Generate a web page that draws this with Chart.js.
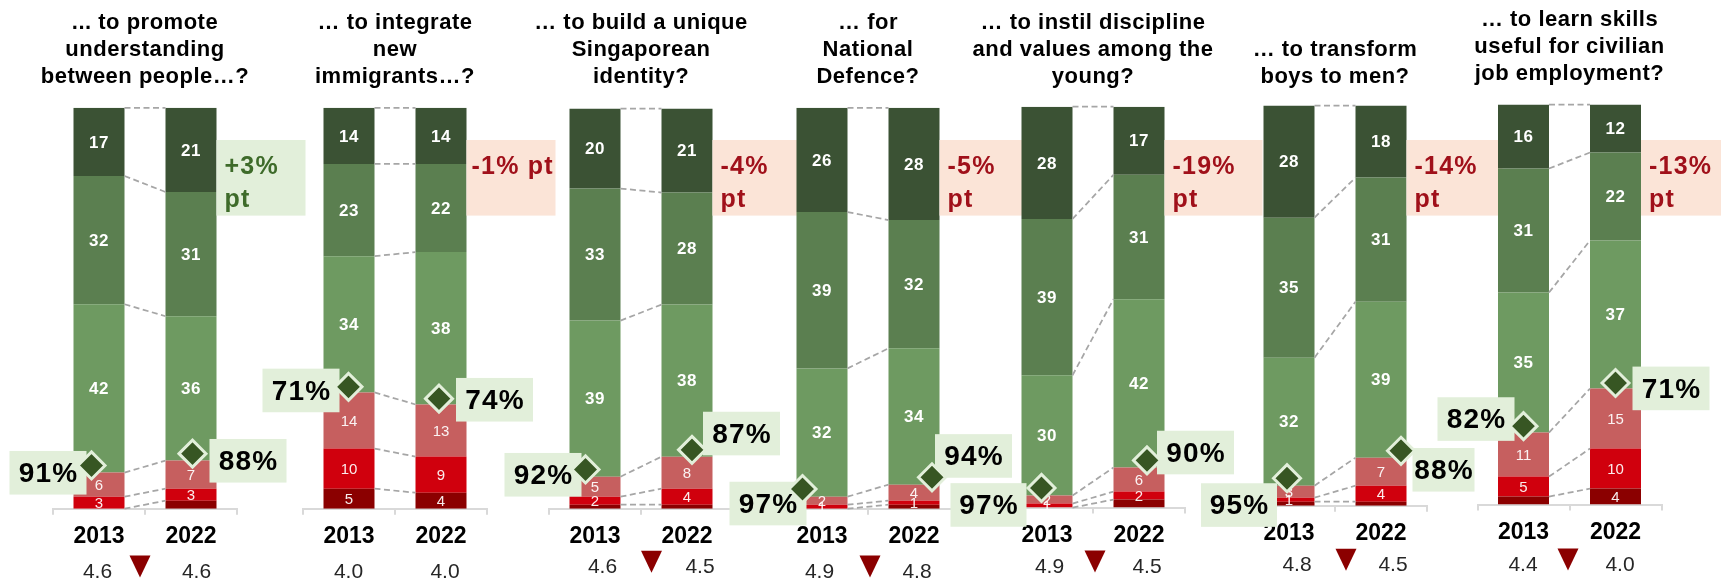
<!DOCTYPE html>
<html>
<head>
<meta charset="utf-8">
<script src="https://cdn.jsdelivr.net/npm/chart.js@4.4.1/dist/chart.umd.min.js"></script>
<style>
  html, body { margin: 0; padding: 0; background: #ffffff; }
  #wrap { position: relative; width: 1721px; height: 581px; overflow: hidden; }
  #wrap canvas { position: absolute; left: 0; top: 0; }
</style>
</head>
<body>
<div id="wrap"></div>
<script>
// ---- Data -------------------------------------------------------------
const questions = [
  ['... to promote', 'understanding', 'between people…?'],
  ['… to integrate', 'new', 'immigrants…?'],
  ['… to build a unique', 'Singaporean', 'identity?'],
  ['… for', 'National', 'Defence?'],
  ['… to instil discipline', 'and values among the', 'young?'],
  ['… to transform', 'boys to men?'],
  ['… to learn skills', 'useful for civilian', 'job employment?']
];
const years = ['2013', '2022'];

// Share of respondents (%), per question: [2013, 2022]
const stronglyAgree    = [[17, 21], [14, 14], [20, 21], [26, 28], [28, 17], [28, 18], [16, 12]];
const agree            = [[32, 31], [23, 22], [33, 28], [39, 32], [39, 31], [35, 31], [31, 22]];
const somewhatAgree    = [[42, 36], [34, 38], [39, 38], [32, 34], [30, 42], [32, 39], [35, 37]];
const somewhatDisagree = [[6, 7], [14, 13], [5, 8], [2, 4], [2, 6], [3, 7], [11, 15]];
const disagree         = [[3, 3], [10, 9], [2, 4], [1, 1], [1, 2], [1, 4], [5, 10]];
const stronglyDisagree = [[0, 2], [5, 4], [1, 1], [0, 1], [0, 2], [1, 1], [2, 4]];

// Mean score (6-point scale) and whether it fell significantly
const meanScore2013 = [4.6, 4.0, 4.6, 4.9, 4.9, 4.8, 4.4];
const meanScore2022 = [4.6, 4.0, 4.5, 4.8, 4.5, 4.5, 4.0];
const meanDeclined  = [true, false, true, true, true, true, true];

// ---- Layout -----------------------------------------------------------
const W = 1721, H = 581;
const groupCentre = [145, 395, 641, 868, 1093, 1335, 1569.5];
const plotTop     = [107.8, 107.8, 108.5, 107.8, 106.7, 105.6, 104.5];
const plotBottom  = [508.7, 508.7, 508.7, 508.7, 507.6, 505.7, 504.6];
const CAT_W = 92;           // width of one year slot
const AXIS_H = 45;          // height reserved for the year axis
const diamondShift = [[-7.5, 1.5], [-0.5, -2], [-9.5, 5], [-19.5, 18], [-5.5, 8], [-2, 20], [0, 0]];
const shareBoxOffset = [
  [[-43.5, 7.3], [55.5, 7.1]],
  [[-47.5, 3.6], [55.5, 1.1]],
  [[-42.5, 5.3], [49.5, -16.3]],
  [[-34.5, 14.5], [41.5, -21.3]],
  [[-53, 17], [48.5, -7.9]],
  [[-48, 26.8], [42.5, 19]],
  [[-47.5, -7.1], [55.5, 5.4]]
];
const shareBoxWidth = [[77, 77], [77, 77], [77, 77], [77, 77], [76, 77], [76, 62], [77, 77]];
const changeBoxWidth = [89, 89, 85, 85, 98, 96, 96];
const changeOneLine  = [false, true, false, false, false, false, false];
const meanShift  = [[-1.5, 5.5], [-0.5, 4], [7.5, 13], [-2.5, 3], [2.5, 8], [8, 12], [-0.5, 4.5]];
const meanDrop   = [63.3, 63.3, 58.5, 63.3, 59.5, 59.5, 60.5];
const arrowShift = [-5, 0, 10.5, 2, 2, 11, -1.5];

const FONT = "'Liberation Sans', Arial, sans-serif";
const colours = {
  stronglyDisagree: '#8B0000',
  disagree: '#D0000D',
  somewhatDisagree: '#C65F5F',
  somewhatAgree: '#6E9A61',
  agree: '#5B7F50',
  stronglyAgree: '#3B5234',
  diamond: '#375623',
  paleGreen: '#E2EFDA',
  paleRed: '#FBE4D7',
  upText: '#3E6B2A',
  downText: '#A0101A',
  connector: '#A6A6A6',
  axis: '#D9D9D9',
  triangle: '#8B0000'
};
Chart.defaults.font.family = FONT;

const seriesDefs = [
  { key: 'stronglyDisagree', values: stronglyDisagree, green: false },
  { key: 'disagree', values: disagree, green: false },
  { key: 'somewhatDisagree', values: somewhatDisagree, green: false },
  { key: 'somewhatAgree', values: somewhatAgree, green: true },
  { key: 'agree', values: agree, green: true },
  { key: 'stronglyAgree', values: stronglyAgree, green: true }
];

function spaced(ctx, px) { ctx.letterSpacing = px + 'px'; }

function overlayPlugin(g) {
  return {
    id: 'overlay' + g,
    beforeDatasetDraw(chart, args) {
      if (args.index !== seriesDefs.length) return;
      const ctx = chart.ctx;
      const metas = seriesDefs.map((_, k) => chart.getDatasetMeta(k));

      // dashed connectors between matching segment boundaries
      ctx.save();
      ctx.strokeStyle = colours.connector;
      ctx.lineWidth = 1.75;
      ctx.setLineDash([6, 3.5]);
      metas.forEach(m => {
        const a = m.data[0], b = m.data[1];
        ctx.beginPath();
        ctx.moveTo(a.x + a.width / 2, a.y);
        ctx.lineTo(b.x - b.width / 2, b.y);
        ctx.stroke();
      });
      ctx.restore();

      // values inside segments
      ctx.save();
      ctx.textAlign = 'center';
      ctx.textBaseline = 'middle';
      seriesDefs.forEach((s, k) => {
        metas[k].data.forEach((bar, i) => {
          const v = s.values[g][i];
          if (v <= 0) return;
          if (s.key === 'stronglyDisagree' && v < 3) return;
          if (s.green) {
            ctx.font = 'bold 17px ' + FONT;
            ctx.fillStyle = '#FFFFFF';
            spaced(ctx, 0.5);
          } else {
            ctx.font = '15px ' + FONT;
            ctx.fillStyle = 'rgba(255,255,255,0.92)';
            spaced(ctx, 0);
          }
          ctx.fillText(String(v), bar.x, (bar.y + bar.base) / 2 + 1);
        });
      });
      ctx.restore();

      // total-agree label boxes beside the diamonds
      const dm = chart.getDatasetMeta(seriesDefs.length);
      ctx.save();
      dm.data.forEach((pt, i) => {
        const total = stronglyAgree[g][i] + agree[g][i] + somewhatAgree[g][i];
        const [ox, oy] = shareBoxOffset[g][i];
        const bw = shareBoxWidth[g][i], bh = 43.6;
        const cx = pt.x + ox, cy = pt.y + oy;
        ctx.fillStyle = colours.paleGreen;
        ctx.fillRect(cx - bw / 2, cy - bh / 2, bw, bh);
        ctx.fillStyle = '#000000';
        ctx.font = 'bold 28px ' + FONT;
        spaced(ctx, 1.2);
        ctx.textAlign = 'center';
        ctx.textBaseline = 'middle';
        ctx.fillText(total + '%', cx + 0.6, cy + 1.5);
      });
      ctx.restore();

      // change in the top-two agree share
      const top13 = stronglyAgree[g][0] + agree[g][0];
      const top22 = stronglyAgree[g][1] + agree[g][1];
      const diff = top22 - top13;
      const b22 = metas[0].data[1];
      const left = b22.x + b22.width / 2;
      const up = diff >= 0;
      ctx.save();
      ctx.fillStyle = up ? colours.paleGreen : colours.paleRed;
      ctx.fillRect(left, 140, changeBoxWidth[g], 75.6);
      ctx.fillStyle = up ? colours.upText : colours.downText;
      ctx.font = 'bold 25px ' + FONT;
      spaced(ctx, 1.2);
      ctx.textAlign = 'left';
      ctx.textBaseline = 'middle';
      const head = (up ? '+' : '-') + Math.abs(diff) + '%';
      if (changeOneLine[g]) {
        ctx.fillText(head + ' pt', left + 5, 167);
      } else {
        ctx.fillText(head, left + 8, 167);
        ctx.fillText('pt', left + 8, 200);
      }
      ctx.restore();
    },
    afterDraw(chart) {
      const ctx = chart.ctx;
      const cx = groupCentre[g];
      // question title
      ctx.save();
      ctx.fillStyle = '#000000';
      ctx.font = 'bold 22px ' + FONT;
      spaced(ctx, 0.5);
      ctx.textAlign = 'center';
      ctx.textBaseline = 'middle';
      const lines = questions[g];
      const lastY = g === 6 ? 73.5 : 76.5;
      lines.forEach((ln, j) => {
        ctx.fillText(ln, cx, lastY - 26.8 * (lines.length - 1 - j));
      });
      ctx.restore();

      // mean scores under the years
      const xs = chart.scales.x;
      const yMean = plotBottom[g] + meanDrop[g];
      ctx.save();
      ctx.fillStyle = '#262626';
      ctx.font = '21px ' + FONT;
      ctx.textAlign = 'center';
      ctx.textBaseline = 'middle';
      ctx.fillText(meanScore2013[g].toFixed(1), xs.getPixelForValue(0) + meanShift[g][0], yMean);
      ctx.fillText(meanScore2022[g].toFixed(1), xs.getPixelForValue(1) + meanShift[g][1], yMean);
      if (meanDeclined[g]) {
        const tx = cx + arrowShift[g], ty = yMean - 16.5;
        ctx.fillStyle = colours.triangle;
        ctx.beginPath();
        ctx.moveTo(tx - 10.5, ty);
        ctx.lineTo(tx + 10.5, ty);
        ctx.lineTo(tx, ty + 22);
        ctx.closePath();
        ctx.fill();
      }
      ctx.restore();
    }
  };
}

const wrap = document.getElementById('wrap');
questions.forEach((q, g) => {
  const canvas = document.createElement('canvas');
  canvas.width = W;
  canvas.height = H;
  wrap.appendChild(canvas);

  const datasets = seriesDefs.map(s => ({
    type: 'bar',
    label: s.key,
    data: s.values[g].slice(),
    backgroundColor: colours[s.key],
    borderWidth: 0,
    xAxisID: 'x',
    yAxisID: 'y',
    grouped: false,
    barPercentage: 51 / CAT_W,
    categoryPercentage: 1
  }));
  datasets.push({
    type: 'line',
    label: 'total agree',
    data: [0, 1].map(i => ({
      x: i + diamondShift[g][i] / CAT_W,
      y: stronglyAgree[g][i] + agree[g][i] + somewhatAgree[g][i]
    })),
    xAxisID: 'xd',
    yAxisID: 'agree',
    showLine: false,
    pointStyle: 'rectRot',
    pointRadius: 13.5,
    pointBackgroundColor: colours.diamond,
    pointBorderColor: colours.paleGreen,
    pointBorderWidth: 3,
    order: -1
  });

  const cx = groupCentre[g];
  new Chart(canvas, {
    type: 'bar',
    data: { labels: years, datasets },
    options: {
      responsive: false,
      animation: false,
      devicePixelRatio: 1,
      events: [],
      layout: {
        padding: {
          left: cx - CAT_W,
          right: W - (cx + CAT_W),
          top: plotTop[g],
          bottom: H - plotBottom[g] - AXIS_H
        }
      },
      plugins: { legend: { display: false }, tooltip: { enabled: false }, title: { display: false } },
      scales: {
        x: {
          type: 'category',
          stacked: true,
          offset: true,
          afterFit: (scale) => { scale.height = AXIS_H; },
          border: { display: true, color: colours.axis, width: 2 },
          grid: {
            offset: true,
            drawOnChartArea: false,
            drawTicks: true,
            tickLength: 6,
            color: colours.axis,
            lineWidth: 2
          },
          ticks: {
            color: '#000000',
            font: { family: FONT, size: 23, weight: 'bold' },
            padding: 8,
            maxRotation: 0
          }
        },
        xd: { type: 'linear', display: false, offset: false, min: -0.5, max: 1.5 },
        y: { stacked: true, display: false, min: 0, max: 100 },
        agree: { type: 'linear', display: false, reverse: true, min: 0, max: 102 }
      }
    },
    plugins: [overlayPlugin(g)]
  });
});
</script>
</body>
</html>
